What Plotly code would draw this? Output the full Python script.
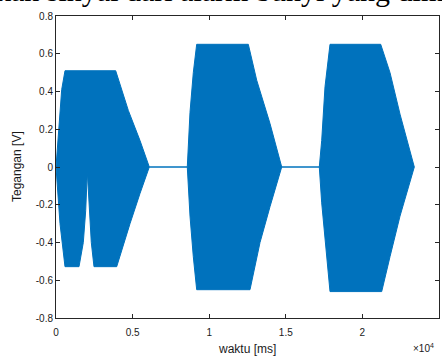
import plotly.graph_objects as go

upper_t = [0, 261, 372, 587, 3897, 4719, 5483, 6090,
           8570, 8747, 8962, 9184, 12552, 13100, 13969, 14733,
           17187, 17343, 17559, 17885, 21194, 21802, 22454, 23388]
upper_v = [0, 0.27, 0.41, 0.51, 0.51, 0.30, 0.14, 0,
           0, 0.29, 0.50, 0.65, 0.65, 0.46, 0.23, 0,
           0, 0.14, 0.425, 0.65, 0.65, 0.50, 0.28, 0]

lower_t = [0, 261, 587, 1501, 1782, 1939, 2043, 2200, 2304, 2480, 3962, 4830, 5483, 6090,
           8570, 8747, 8962, 9184, 12663, 13316, 13969, 14733,
           17187, 17343, 17559, 17885, 21260, 21802, 22454, 23388]
lower_v = [0, -0.30, -0.528, -0.528, -0.40, -0.23, -0.025, -0.23, -0.40, -0.528, -0.528, -0.30, -0.14, 0,
           0, -0.26, -0.475, -0.65, -0.65, -0.40, -0.21, 0,
           0, -0.19, -0.40, -0.66, -0.66, -0.475, -0.26, 0]

x_tickvals = [0, 5000, 10000, 15000, 20000, 25000]
x_ticktext = ["0", "0.5", "1", "1.5", "2", "2.5"]
y_tickvals = [-0.8, -0.6, -0.4, -0.2, 0, 0.2, 0.4, 0.6, 0.8]
y_ticktext = ["-0.8", "-0.6", "-0.4", "-0.2", "0", "0.2", "0.4", "0.6", "0.8"]

BLUE = "#0072BD"
AX = "#262626"
TXT = "#1a1a1a"

poly_x = upper_t + lower_t[::-1]
poly_y = upper_v + lower_v[::-1]

fig = go.Figure()
fig.add_trace(go.Scatter(
    x=poly_x, y=poly_y, mode="lines", fill="toself",
    fillcolor=BLUE, line=dict(color=BLUE, width=1),
    hoverinfo="skip", showlegend=False))

W, H = 442, 358
L, R, T, B = 56, 3, 16, 40
pw, ph = W - L - R, H - T - B

def px_x(px):
    return (px - L) / pw

def px_y(py):
    return (H - B - py) / ph

axis_common = dict(
    showline=True, mirror="allticks", linecolor=AX, linewidth=1,
    ticks="inside", ticklen=4, tickcolor=AX, tickwidth=1,
    showgrid=False, zeroline=False, automargin=False,
    tickfont=dict(family="Liberation Sans", size=10, color=TXT),
)

fig.update_layout(
    width=W, height=H,
    margin=dict(l=L, r=R, t=T, b=B, autoexpand=False),
    paper_bgcolor="white", plot_bgcolor="white",
    xaxis=dict(range=[0, 25000], tickmode="array", tickvals=x_tickvals,
               ticktext=x_ticktext, ticklabelstandoff=5, **axis_common),
    yaxis=dict(range=[-0.8, 0.8], tickmode="array", tickvals=y_tickvals,
               ticktext=y_ticktext, **axis_common),
    annotations=[
        dict(text="waktu [ms]", xref="paper", yref="paper",
             x=px_x(247), y=px_y(349), xanchor="center", yanchor="middle",
             showarrow=False,
             font=dict(family="Liberation Sans", size=12, color=TXT)),
        dict(text="Tegangan [V]", xref="paper", yref="paper", textangle=-90,
             x=px_x(17), y=px_y(167), xanchor="center", yanchor="middle",
             showarrow=False,
             font=dict(family="Liberation Sans", size=12, color=TXT)),
        dict(text="×10<sup>4</sup>", xref="paper", yref="paper",
             x=px_x(411), y=px_y(348), xanchor="left", yanchor="middle",
             showarrow=False,
             font=dict(family="Liberation Sans", size=10, color=TXT)),
        dict(text="ukan sinyal dari alarm bunyi yang dim", xref="paper", yref="paper",
             x=px_x(-21), y=px_y(-9), xanchor="left", yanchor="middle",
             showarrow=False,
             font=dict(family="Liberation Serif", size=30, color="black")),
    ],
)

fig.write_html("out.html", config={"displayModeBar": False},
               post_script="document.body.style.margin='0';document.body.style.overflow='hidden';")
